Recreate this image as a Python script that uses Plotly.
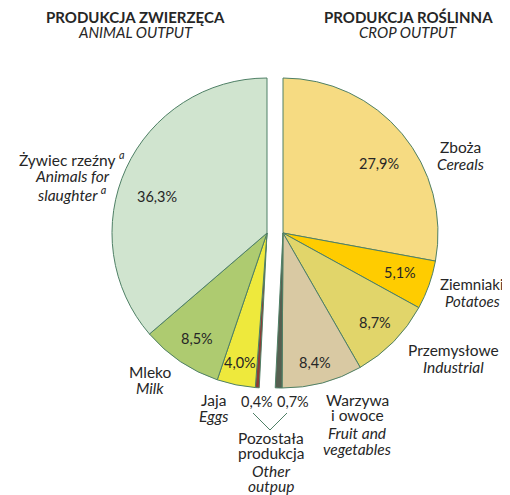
import plotly.graph_objects as go

# page offset (default body margin of the html page)
OFF = 8
W, H = 510 - OFF, 495 - OFF

# ---- data ----
crop_labels = ["Zboża", "Ziemniaki", "Przemysłowe", "Warzywa i owoce", "Pozostała produkcja"]
crop_values = [27.9, 5.1, 8.7, 8.4, 0.7]
crop_colors = ["#F6DB82", "#FFCC00", "#E1D56A", "#D9C9A3", "#575F50"]

animal_labels = ["Pozostała produkcja", "Jaja", "Mleko", "Żywiec rzeźny"]
animal_values = [0.4, 4.0, 8.5, 36.3]
animal_colors = ["#8E3B36", "#EEE93C", "#AECB70", "#D0E4CF"]

LINE = "#4F8066"
TXT = "#262626"
FONT = "Lato"


def px(x):
    return (x - OFF) / W


def py(y):
    return 1 - (y - OFF) / H


def pct(v):
    return f"{v:.1f}%".replace(".", ",")


R = 155
CY = 233
RIGHT_CX = 283
LEFT_CX = 267

animal_total = sum(animal_values)
crop_total = sum(crop_values)

fig = go.Figure()

# crop half (right), clockwise from 12 o'clock, with an invisible filler
fig.add_trace(go.Pie(
    values=crop_values + [animal_total],
    labels=crop_labels + ["_fill_c"],
    marker=dict(colors=crop_colors + ["rgba(0,0,0,0)"],
                line=dict(color=[LINE] * len(crop_values) + ["rgba(0,0,0,0)"],
                          width=[1] * len(crop_values) + [0])),
    sort=False, direction="clockwise", rotation=0,
    textinfo="none", hoverinfo="skip", showlegend=False,
    domain=dict(x=[px(RIGHT_CX - R), px(RIGHT_CX + R)], y=[py(CY + R), py(CY - R)]),
))

# animal half (left)
fig.add_trace(go.Pie(
    values=[crop_total] + animal_values,
    labels=["_fill_a"] + animal_labels,
    marker=dict(colors=["rgba(0,0,0,0)"] + animal_colors,
                line=dict(color=["rgba(0,0,0,0)"] + [LINE] * len(animal_values),
                          width=[0] + [1] * len(animal_values))),
    sort=False, direction="clockwise", rotation=0,
    textinfo="none", hoverinfo="skip", showlegend=False,
    domain=dict(x=[px(LEFT_CX - R), px(LEFT_CX + R)], y=[py(CY + R), py(CY - R)]),
))

ann = []


def add(text, x, y, size=15.5, xanchor="center"):
    ann.append(dict(text=text, x=px(x), y=py(y), xref="paper", yref="paper",
                    showarrow=False, xanchor=xanchor, yanchor="middle",
                    font=dict(family=FONT, size=size, color=TXT)))


# titles
add("<b>PRODUKCJA ZWIERZĘCA</b>", 135, 17, 15)
add("<i>ANIMAL OUTPUT</i>", 135, 32, 15)
add("<b>PRODUKCJA ROŚLINNA</b>", 408, 17, 15)
add("<i>CROP OUTPUT</i>", 408, 32, 15)

# percentages
crop_pct_pos = [(379, 163), (400, 272), (375, 322), (315, 362), (293, 401)]
for v, (x, y) in zip(crop_values, crop_pct_pos):
    add(pct(v), x, y, 14.5)
animal_pct_pos = [(257, 401), (240, 362), (197, 338), (157, 197)]
for v, (x, y) in zip(animal_values, animal_pct_pos):
    add(pct(v), x, y, 14.5)

# category labels
add("Zboża", 460, 147)
add("<i>Cereals</i>", 460, 164)
add("Ziemniaki", 506, 284, 15, xanchor="right")
add("<i>Potatoes</i>", 472, 301, 15)
add("Przemysłowe", 453, 350)
add("<i>Industrial</i>", 453, 367)
add("Warzywa", 357, 400)
add("i owoce", 357, 415)
add("<i>Fruit and</i>", 357, 433)
add("<i>vegetables</i>", 357, 449)
add("Pozostała", 271, 438)
add("produkcja", 271, 453)
add("<i>Other</i>", 271, 471)
add("<i>outpup</i>", 271, 486)
add("Jaja", 213, 400)
add("<i>Eggs</i>", 213, 416)
add("Mleko", 150, 372)
add("<i>Milk</i>", 150, 388)
add("Żywiec rzeźny <sup><i>a</i></sup>", 72, 158)
add("<i>Animals for</i>", 72, 176)
add("<i>slaughter <sup>a</sup></i>", 72, 193)

fig.update_layout(
    width=W, height=H,
    margin=dict(l=0, r=0, t=0, b=0),
    paper_bgcolor="white", plot_bgcolor="white",
    annotations=ann,
    shapes=[dict(type="path", xref="paper", yref="paper",
                 path=f"M {px(253)} {py(413)} L {px(270)} {py(430)} L {px(287)} {py(413)}",
                 line=dict(color=LINE, width=1))],
)

fig.write_html("out.html")
